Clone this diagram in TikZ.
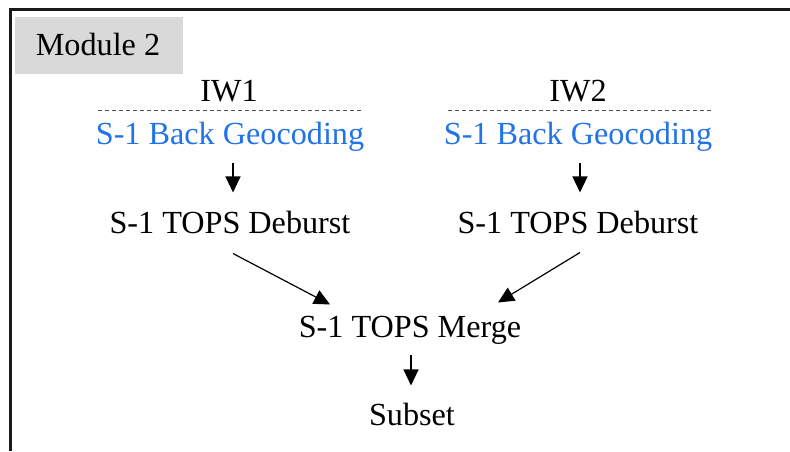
\documentclass[tikz,border=0pt]{standalone}
\usepackage{fontspec}
\setmainfont{Liberation Serif}
\usetikzlibrary{arrows.meta}
\definecolor{geoblue}{RGB}{33,115,232}
\definecolor{modgray}{RGB}{217,217,217}
\definecolor{dashgray}{RGB}{80,80,80}
\tikzset{
  txt/.style={inner sep=0pt, anchor=base, font=\fontsize{32.2}{36}\selectfont},
  blue txt/.style={txt, text=geoblue},
  arr/.style={-{Triangle[length=16pt,width=15pt]}, line width=1.2pt},
  dashline/.style={draw=dashgray, line width=1pt, dash pattern=on 4pt off 3pt},
  frame/.style={line width=3pt, draw=black!90}
}
\begin{document}
\begin{tikzpicture}[x=1pt,y=-1pt]
\useasboundingbox (0,0) rectangle (790,451);
\fill[white] (0,0) rectangle (790,451);
\draw[frame] (10,451) -- (10,9) -- (790,9);
\fill[modgray] (15,17) rectangle (183,74);
\node[txt] (mod) at (98,55) {Module 2};

\node[txt] (iw1) at (229,101) {IW1};
\node[txt] (iw2) at (578,101) {IW2};
\coordinate (d1a) at (98,110);
\coordinate (d1b) at (363,110);
\coordinate (d2a) at (448,110);
\coordinate (d2b) at (713,110);
\draw[dashline] (d1a) -- (d1b);
\draw[dashline] (d2a) -- (d2b);

\node[blue txt] (bg1) at (230,144) {S-1 Back Geocoding};
\node[blue txt] (bg2) at (578,144) {S-1 Back Geocoding};

\node[txt] (db1) at (230,233) {S-1 TOPS Deburst};
\node[txt] (db2) at (578,233) {S-1 TOPS Deburst};

\node[txt] (mg) at (410,337) {S-1 TOPS Merge};
\node[txt] (sub) at (412,425) {Subset};

\draw[arr] ([xshift=3pt,yshift=-12pt]bg1.south) -- ([xshift=3pt,yshift=18pt]db1.north);
\draw[arr] ([xshift=2pt,yshift=-12pt]bg2.south) -- ([xshift=2pt,yshift=18pt]db2.north);
\draw[arr] ([xshift=3pt,yshift=-20pt]db1.south) -- ([xshift=-80pt,yshift=11pt]mg.north);
\draw[arr] ([xshift=2pt,yshift=-19pt]db2.south) -- ([xshift=88pt,yshift=13pt]mg.north);
\draw[arr] ([xshift=1pt,yshift=-11pt]mg.south) -- ([xshift=-1pt,yshift=17pt]sub.north);
\end{tikzpicture}
\end{document}
